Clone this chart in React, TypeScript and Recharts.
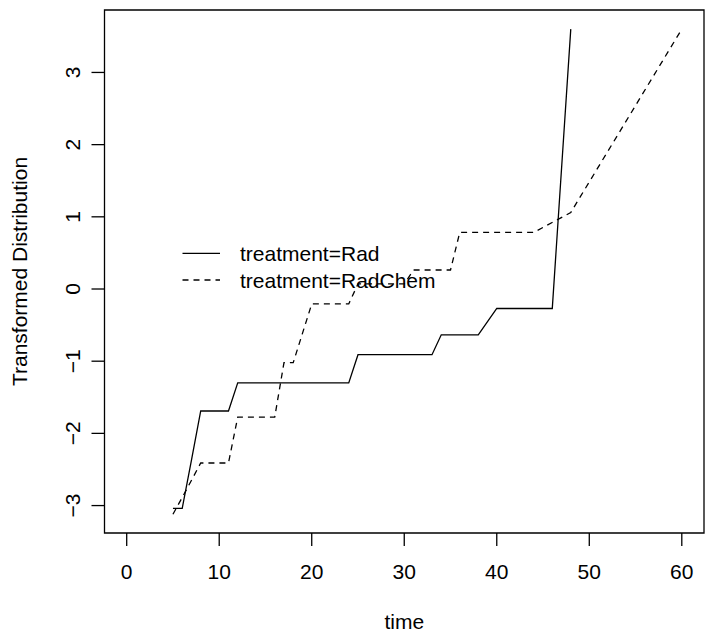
import React from 'react';
import { LineChart, Line, XAxis, YAxis, ReferenceArea, Customized, Label } from 'recharts';

// ---- data ----
const radTime = [5, 6, 7, 8, 11, 12, 24, 25, 33, 34, 38, 40, 46, 48];
const radValue = [-3.04, -3.04, -2.37, -1.69, -1.69, -1.3, -1.3, -0.91, -0.91, -0.635, -0.635, -0.27, -0.27, 3.6];

const radChemTime = [5, 6.5, 8, 11, 12, 16, 17, 18, 20, 24, 25, 30, 31, 35, 36, 44, 48, 60];
const radChemValue = [-3.12, -2.77, -2.41, -2.41, -1.775, -1.775, -1.02, -1.02, -0.207, -0.207, 0.07, 0.07, 0.263, 0.263, 0.784, 0.784, 1.06, 3.6];

const seriesNames = ['treatment=Rad', 'treatment=RadChem'];
const xTicks = [0, 10, 20, 30, 40, 50, 60];
const yTicks = [-3, -2, -1, 0, 1, 2, 3];
const xLabel = 'time';
const yLabel = 'Transformed Distribution';

const xDomain: [number, number] = [-2.4, 62.4];
const yDomain: [number, number] = [-3.38, 3.865];

const radData = radTime.map((t, i) => ({ t, v: radValue[i] }));
const radChemData = radChemTime.map((t, i) => ({ t, v: radChemValue[i] }));

const FONT = '"Liberation Sans", Arial, Helvetica, sans-serif';
const FS = 21;
const DASH = '6 5';

const fmt = (n: number) => (n < 0 ? '\u2212' + Math.abs(n) : String(n));

const YTick = (props: any) => {
  const { y, payload } = props;
  return (
    <text
      transform={`translate(72, ${y}) rotate(-90)`}
      textAnchor="middle"
      dy="0.36em"
      fontSize={FS}
      fontFamily={FONT}
      fill="#000"
    >
      {fmt(payload.value)}
    </text>
  );
};

const LegendBox = () => {
  const rows = [
    { name: seriesNames[0], dash: undefined as string | undefined, y: 253.3 },
    { name: seriesNames[1], dash: DASH, y: 280 },
  ];
  return (
    <g>
      {rows.map((r) => (
        <g key={r.name}>
          <line x1={182.5} x2={220} y1={r.y} y2={r.y} stroke="#000" strokeWidth={1.3} strokeDasharray={r.dash} />
          <text x={240} y={r.y} dy="0.36em" fontSize={FS} fontFamily={FONT} fill="#000">
            {r.name}
          </text>
        </g>
      ))}
    </g>
  );
};

export default function App() {
  return (
    <div style={{ position: 'absolute', left: 0, top: 0, width: 714, height: 639, background: '#fff' }}>
      <LineChart width={714} height={639} margin={{ top: 10, right: 10, left: 0, bottom: 0 }}>
        <XAxis
          dataKey="t"
          type="number"
          domain={xDomain}
          ticks={xTicks}
          allowDataOverflow
          axisLine={false}
          tickSize={13}
          tickMargin={18}
          height={106}
          tickLine={{ stroke: '#000', strokeWidth: 1.3 }}
          tick={{ fontSize: FS, fill: '#000', fontFamily: FONT }}
          tickFormatter={fmt}
        >
          <Label
            content={(p: any) => {
              const vb = p.viewBox || {};
              const cx = (vb.x || 0) + (vb.width || 0) / 2;
              return (
                <text x={cx} y={629} textAnchor="middle" fontSize={FS} fontFamily={FONT} fill="#000">
                  {xLabel}
                </text>
              );
            }}
          />
        </XAxis>
        <YAxis
          type="number"
          domain={yDomain}
          ticks={yTicks}
          allowDataOverflow
          axisLine={false}
          width={104.5}
          tickSize={13}
          tickLine={{ stroke: '#000', strokeWidth: 1.3 }}
          tick={<YTick />}
        >
          <Label
            content={(p: any) => {
              const vb = p.viewBox || {};
              const cy = (vb.y || 0) + (vb.height || 0) / 2;
              return (
                <text
                  transform={`translate(27, ${cy}) rotate(-90)`}
                  textAnchor="middle"
                  fontSize={FS}
                  fontFamily={FONT}
                  fill="#000"
                >
                  {yLabel}
                </text>
              );
            }}
          />
        </YAxis>
        <ReferenceArea
          x1={xDomain[0]}
          x2={xDomain[1]}
          y1={yDomain[0]}
          y2={yDomain[1]}
          fill="none"
          fillOpacity={0}
          stroke="#000"
          strokeWidth={1.3}
          ifOverflow="visible"
        />
        <Line
          data={radData}
          dataKey="v"
          name={seriesNames[0]}
          type="linear"
          stroke="#000"
          strokeWidth={1.3}
          dot={false}
          isAnimationActive={false}
        />
        <Line
          data={radChemData}
          dataKey="v"
          name={seriesNames[1]}
          type="linear"
          stroke="#000"
          strokeWidth={1.3}
          strokeDasharray={DASH}
          dot={false}
          isAnimationActive={false}
        />
        <Customized component={LegendBox} />
      </LineChart>
    </div>
  );
}
